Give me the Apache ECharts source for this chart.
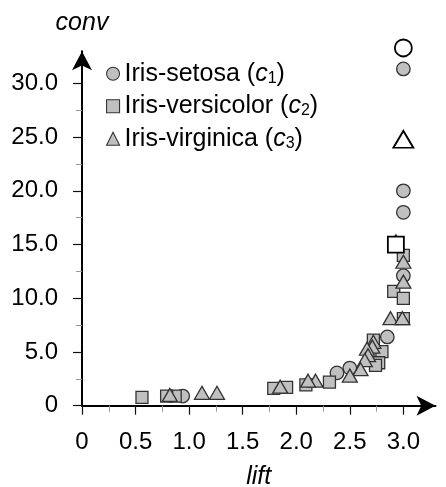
<!DOCTYPE html>
<html><head><meta charset="utf-8">
<script src="https://cdn.jsdelivr.net/npm/echarts@6/dist/echarts.min.js"></script>
<style>html,body{margin:0;padding:0;background:#fff}#c{width:446px;height:487px}</style>
</head><body><div id="c"></div>
<script>
// ---- data ----
const classNames = ['Iris-setosa', 'Iris-versicolor', 'Iris-virginica'];
const classSymbols = ['circle', 'rect', 'triangle'];

// [lift, conv]
const setosa = [[3.0,31.35],[3.0,20.0],[3.0,18.0],[3.0,12.1],[2.85,6.4],[2.50,3.5],[2.38,3.05],[0.94,0.9]];
const versicolor = [[3.0,14.0],[2.91,10.65],[3.0,10.0],[3.0,8.1],[2.72,6.1],[2.80,5.03],[2.77,4.0],[2.74,3.75],
  [2.31,2.2],[2.09,1.93],[1.91,1.7],[1.79,1.62],[0.87,0.9],[0.79,0.9],[0.56,0.78]];
const virginica = [[2.93,15.3],[3.0,13.4],[3.0,11.55],[2.88,8.15],[2.99,8.15],[2.72,5.95],[2.71,5.5],[2.66,5.3],
  [2.67,4.7],[2.64,4.25],[2.60,3.4],[2.50,2.8],[2.18,2.33],[2.11,2.33],[1.85,1.77],[1.26,1.2],[1.12,1.2],[0.82,1.0]];
// open (white) highlighted points
const setosaOpen = [[3.0,33.3]];
const versicolorOpen = [[2.93,15.0]];
const virginicaOpen = [[3.0,24.8]];

const xMajorTicks = [0,0.5,1.0,1.5,2.0,2.5,3.0];
const xMinorTicks = [0.25,0.75,1.25,1.75,2.25,2.75];
const yMajorTicks = [0,5,10,15,20,25,30];
const yMinorTicks = [2.5,7.5,12.5,17.5,22.5,27.5];

const FONT = 'Liberation Sans';
const grayFill = '#c0c0c0';
const fmt = v => (v === 0 ? '0' : v.toFixed(1));

const graySizes = [13.5, 12, [15, 13]];
const openSizes = [17, 16, [20, 17]];
const grayData = [setosa, versicolor, virginica];
const openData = [setosaOpen, versicolorOpen, virginicaOpen];

const series = [];
classNames.forEach((n, i) => {
  series.push({
    type: 'scatter', name: n, data: grayData[i], symbol: classSymbols[i], symbolSize: graySizes[i],
    clip: false, z: 2,
    itemStyle: { color: grayFill, borderColor: '#333', borderWidth: 1.3, opacity: 1 },
    emphasis: { disabled: true }
  });
});
classNames.forEach((n, i) => {
  series.push({
    type: 'scatter', name: n, data: openData[i], symbol: classSymbols[i], symbolSize: openSizes[i],
    clip: false, z: 3,
    itemStyle: { color: '#fff', borderColor: '#000', borderWidth: 1.8, opacity: 1 },
    emphasis: { disabled: true }
  });
});

const chart = echarts.init(document.getElementById('c'), null, { renderer: 'canvas' });
chart.setOption({
  animation: false,
  backgroundColor: '#fff',
  grid: { left: 82, right: 10.5, top: 51.2, bottom: 81.3, containLabel: false, outerBoundsMode: 'none' },
  legend: {
    orient: 'vertical', left: 101, top: 55.7, itemWidth: 13, itemHeight: 13, itemGap: 6.5,
    selectedMode: false, symbolKeepAspect: true,
    data: classNames,
    itemStyle: { color: grayFill, borderColor: '#333', borderWidth: 1.1 },
    textStyle: {
      fontFamily: FONT, fontSize: 25, color: '#000', lineHeight: 26,
      rich: {
        i: { fontFamily: FONT, fontSize: 25, fontStyle: 'italic', color: '#000', lineHeight: 26 },
        s: { fontFamily: FONT, fontSize: 16, color: '#000', padding: [9, 0, 0, 0] }
      }
    },
    formatter: name => name + ' ({i|c}{s|' + (classNames.indexOf(name) + 1) + '})'
  },
  xAxis: [{
    type: 'value', min: 0, max: 3.3, position: 'bottom',
    name: 'lift', nameLocation: 'middle', nameGap: 59,
    nameTextStyle: { fontFamily: FONT, fontSize: 25, fontStyle: 'italic', color: '#000' },
    axisLine: { show: true, symbol: ['none', 'arrow'], symbolSize: [15, 19], lineStyle: { color: '#000', width: 2 } },
    axisTick: { show: true, customValues: xMajorTicks, length: 9, lineStyle: { color: '#111', width: 1.2 } },
    axisLabel: { customValues: xMajorTicks, formatter: fmt, margin: 25, fontFamily: FONT, fontSize: 24, color: '#000' },
    splitLine: { show: false }
  }, {
    type: 'value', min: 0, max: 3.3, position: 'bottom',
    axisLine: { show: false },
    axisTick: { show: true, customValues: xMinorTicks, length: 6, lineStyle: { color: '#999', width: 1 } },
    axisLabel: { show: false },
    splitLine: { show: false }
  }],
  yAxis: [{
    type: 'value', min: 0, max: 33, position: 'left',
    name: 'conv', nameLocation: 'end', nameGap: 16,
    nameTextStyle: { fontFamily: FONT, fontSize: 25, fontStyle: 'italic', color: '#000' },
    axisLine: { show: true, symbol: ['none', 'arrow'], symbolSize: [15, 19], lineStyle: { color: '#000', width: 2 } },
    axisTick: { show: true, customValues: yMajorTicks, length: 9, lineStyle: { color: '#111', width: 1.2 } },
    axisLabel: { customValues: yMajorTicks, formatter: fmt, margin: 24, fontFamily: FONT, fontSize: 24, color: '#000' },
    splitLine: { show: false }
  }, {
    type: 'value', min: 0, max: 33, position: 'left',
    axisLine: { show: false },
    axisTick: { show: true, customValues: yMinorTicks, length: 6, lineStyle: { color: '#999', width: 1 } },
    axisLabel: { show: false },
    splitLine: { show: false }
  }],
  series: series
});
</script></body></html>
